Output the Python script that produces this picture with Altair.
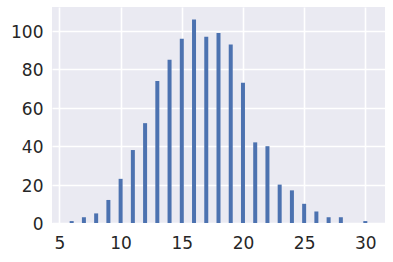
import altair as alt
import pandas as pd

values = [6, 7, 8, 9, 10, 11, 12, 13, 14, 15, 16, 17, 18, 19, 20, 21, 22, 23, 24, 25, 26, 27, 28, 30]
counts = [1, 3, 5, 12, 23, 38, 52, 74, 85, 96, 106, 97, 99, 93, 73, 42, 40, 20, 17, 10, 6, 3, 3, 1]
x_ticks = [5, 10, 15, 20, 25, 30]
y_ticks = [0, 20, 40, 60, 80, 100]

df = pd.DataFrame({"value": values, "count": counts})

chart = alt.Chart(df).mark_bar(size=4, color="#4C72B0").encode(
    x=alt.X("value:Q", scale=alt.Scale(domain=[4.8, 31.2], nice=False, zero=False),
            axis=alt.Axis(values=x_ticks, title=None, format="d", labelFlush=False)),
    y=alt.Y("count:Q", scale=alt.Scale(domain=[0, 112.5], nice=False),
            axis=alt.Axis(values=y_ticks, title=None, format="d")),
).properties(
    width=333, height=216,
    autosize=alt.AutoSizeParams(type="none"),
    padding={"left": 52, "top": 7, "right": 8, "bottom": 39},
    background="white",
).configure_view(
    fill="#EAEAF2", stroke=None
).configure_axis(
    grid=True, gridColor="white", gridWidth=1.6, domain=False, ticks=False,
    labelFont="DejaVu Sans", labelFontSize=17, labelColor="#262626",
)
chart = chart.configure_axisX(labelPadding=12).configure_axisY(labelPadding=9, labelOffset=1.5)

chart.save("out.html", embed_options={"renderer": "svg", "actions": False})
